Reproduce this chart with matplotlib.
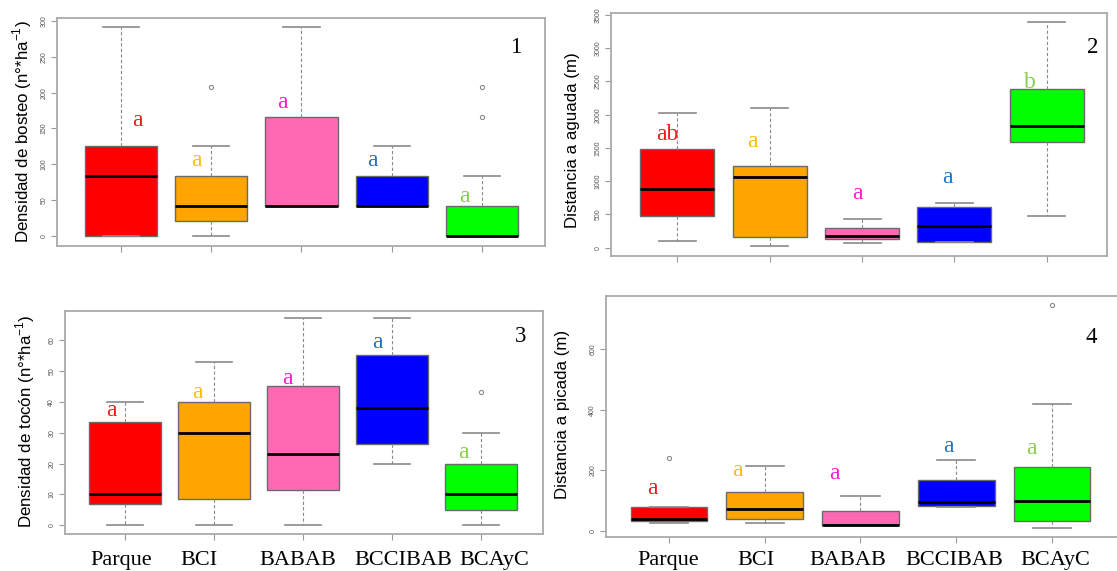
import matplotlib
matplotlib.use("Agg")
import matplotlib.pyplot as plt
from matplotlib.transforms import ScaledTranslation

plt.rcParams['mathtext.fontset'] = 'custom'
plt.rcParams['mathtext.rm'] = 'Liberation Sans'

categories = ["Parque", "BCI", "BABAB", "BCCIBAB", "BCAyC"]
box_colors = ['#FF0000', '#FFA500', '#FF69B4', '#0000FF', '#00FF00']
letter_colors = ['#F21A1A', '#FFB90F', '#FF1ACC', '#1874CD', '#86D04A']

# Panel 1: Densidad de bosteo
p1_whislo = [0, 0, 41.7, 41.7, 0]
p1_q1 = [0, 21, 41.7, 41.7, 0]
p1_med = [83.3, 41.7, 41.7, 41.7, 0]
p1_q3 = [125, 83.3, 166.7, 83.3, 41.7]
p1_whishi = [292, 125, 292, 125, 83.3]
p1_fliers = [[], [208], [], [], [166.7, 208]]
p1_letters = ["a", "a", "a", "a", "a"]
p1_letter_y = [154, 98, 178, 98, 47]

# Panel 2: Distancia a aguada
p2_whislo = [100, 20, 70, 80, 476]
p2_q1 = [476, 160, 125, 85, 1587]
p2_med = [876, 1062, 170, 325, 1833]
p2_q3 = [1482, 1232, 300, 616, 2384]
p2_whishi = [2023, 2103, 431, 671, 3395]
p2_fliers = [[], [], [], [], []]
p2_letters = ["ab", "a", "a", "a", "b"]
p2_letter_y = [1617, 1509, 733, 969, 2409]

# Panel 3: Densidad de tocón
p3_whislo = [0, 0, 0, 20, 0]
p3_q1 = [6.8, 8.4, 11.5, 26.3, 5]
p3_med = [10, 30, 23, 38, 10]
p3_q3 = [33.3, 40, 45, 55, 20]
p3_whishi = [40, 53, 67, 67, 30]
p3_fliers = [[], [], [], [], [43.3]]
p3_letters = ["a", "a", "a", "a", "a"]
p3_letter_y = [35.3, 41.2, 45.8, 57.4, 21.8]

# Panel 4: Distancia a picada
p4_whislo = [25, 27, 20, 79, 10]
p4_q1 = [33, 38, 20, 83, 32]
p4_med = [41, 73, 21, 96, 99]
p4_q3 = [80, 128, 67, 168, 210]
p4_whishi = [80, 214, 114, 233, 418]
p4_fliers = [[242], [], [], [], [746]]
p4_letters = ["a", "a", "a", "a", "a"]
p4_letter_y = [121, 180, 172, 261, 254]

ylabels = ['Densidad de bosteo (n°*ha$^{\\mathregular{-1}}$)',
           'Distancia a aguada (m)',
           'Densidad de tocón (n°*ha$^{\\mathregular{-1}}$)',
           'Distancia a picada (m)']
panel_numbers = ["1", "2", "3", "4"]
yticks = [[0, 50, 100, 150, 200, 250, 300],
          [0, 500, 1000, 1500, 2000, 2500, 3000, 3500],
          [0, 10, 20, 30, 40, 50, 60],
          [0, 200, 400, 600]]

W, H = 1117, 571
fig = plt.figure(figsize=(W / 100, H / 100), dpi=100)

def px_axes(x0, y0, x1, y1):
    return fig.add_axes([x0 / W, 1 - y1 / H, (x1 - x0) / W, (y1 - y0) / H])

panels = [
    dict(rect=(57, 18, 545, 246), xlim=(0.291, 5.698), ylim=(-14, 304.2),
         data=(p1_whislo, p1_q1, p1_med, p1_q3, p1_whishi, p1_fliers),
         letters=p1_letters, ly=p1_letter_y,
         loff=[0.18, -0.17, -0.21, -0.22, -0.2], num_xy=(5.37, 256),
         ylab_xy=(22, 132), xlabels=False),
    dict(rect=(611, 13, 1107, 256), xlim=(0.286, 5.649), ylim=(-125, 3530),
         data=(p2_whislo, p2_q1, p2_med, p2_q3, p2_whishi, p2_fliers),
         letters=p2_letters, ly=p2_letter_y,
         loff=[-0.11, -0.19, -0.05, -0.08, -0.19], num_xy=(5.49, 2932),
         ylab_xy=(572, 140), xlabels=False),
    dict(rect=(65, 311, 543, 534), xlim=(0.326, 5.697), ylim=(-2.8, 69.4),
         data=(p3_whislo, p3_q1, p3_med, p3_q3, p3_whishi, p3_fliers),
         letters=p3_letters, ly=p3_letter_y,
         loff=[-0.15, -0.19, -0.17, -0.16, -0.2], num_xy=(5.44, 59.4),
         ylab_xy=(25, 421), xlabels=True, xoff=[-4, -15, -5.5, 11, 13], xbase=31),
    dict(rect=(606, 296, 1119, 537), xlim=(0.342, 5.70), ylim=(-19.8, 776),
         data=(p4_whislo, p4_q1, p4_med, p4_q3, p4_whishi, p4_fliers),
         letters=p4_letters, ly=p4_letter_y,
         loff=[-0.17, -0.29, -0.27, -0.08, -0.22], num_xy=(5.41, 622),
         ylab_xy=(562, 414), xlabels=True, xoff=[-1, -9, -13, -2, 3], xbase=28),
]

positions = [1, 2, 3, 4, 5]
for i, p in enumerate(panels):
    ax = px_axes(*p['rect'])
    wlo, q1, med, q3, whi, fl = p['data']
    stats = []
    for k in range(5):
        stats.append(dict(whislo=wlo[k], q1=q1[k], med=med[k], q3=q3[k],
                          whishi=whi[k], fliers=fl[k], label=categories[k]))
    bp = ax.bxp(stats, positions=positions, widths=0.8, patch_artist=True,
                boxprops=dict(edgecolor='#6a6a6a', linewidth=1.0),
                medianprops=dict(color='black', linewidth=2.0),
                whiskerprops=dict(color='#8a8a8a', linewidth=0.8, linestyle=(0, (3, 2))),
                capprops=dict(color='#8a8a8a', linewidth=1.2),
                flierprops=dict(marker='o', markersize=3, markerfacecolor='none',
                                markeredgecolor='#8a8a8a', markeredgewidth=0.8))
    for patch, c in zip(bp['boxes'], box_colors):
        patch.set_facecolor(c)
    ax.set_xlim(*p['xlim'])
    ax.set_ylim(*p['ylim'])
    ax.set_yticks(yticks[i])
    ax.set_yticklabels([str(t) for t in yticks[i]], rotation=90, va='center',
                       fontsize=5, color='#555555', family='Liberation Sans')
    ax.set_xticks(positions)
    ax.set_xticklabels([])
    if p['xlabels']:
        for k in range(5):
            tr = ax.get_xaxis_transform() + ScaledTranslation(
                p['xoff'][k] / 100, -p['xbase'] / 100, fig.dpi_scale_trans)
            ax.text(positions[k], 0, categories[k], transform=tr,
                    family='Liberation Serif', fontsize=16,
                    ha='center', va='baseline', clip_on=False)
    ax.tick_params(axis='both', length=4, color='#999999', width=0.8)
    ax.tick_params(axis='y', pad=3)
    for s in ax.spines.values():
        s.set_color('#aaaaaa')
        s.set_linewidth(1.3)
    for k in range(5):
        ax.text(positions[k] + p['loff'][k], p['ly'][k], p['letters'][k],
                color=letter_colors[k], family='Liberation Serif', fontsize=17,
                ha='center', va='baseline')
    ax.text(p['num_xy'][0], p['num_xy'][1], panel_numbers[i], family='Liberation Serif',
            fontsize=16.5, ha='center', va='baseline', color='black')
    fig.text(p['ylab_xy'][0] / W, 1 - p['ylab_xy'][1] / H, ylabels[i], rotation=90,
             ha='center', va='center', family='Liberation Sans', fontsize=12.2)

fig.savefig('out.png', dpi=100)
